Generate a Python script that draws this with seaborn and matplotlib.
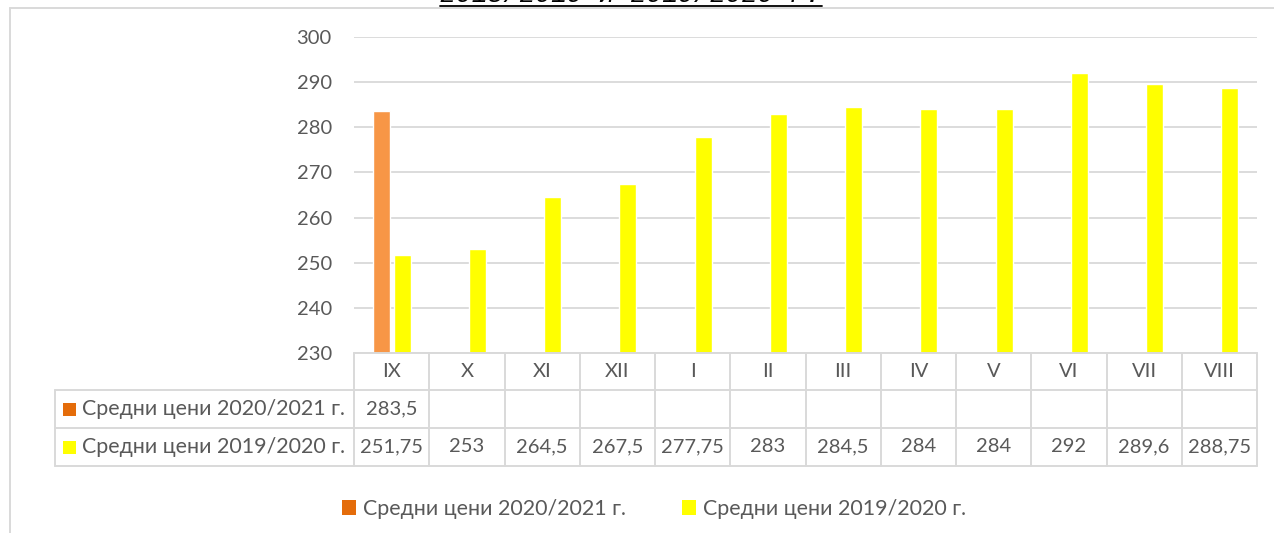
import matplotlib
matplotlib.use("Agg")
import matplotlib.pyplot as plt
from matplotlib.lines import Line2D
from matplotlib.patches import Rectangle, Patch
import seaborn as sns
import pandas as pd
import numpy as np

# ---- data ----
months = ['IX', 'X', 'XI', 'XII', 'I', 'II', 'III', 'IV', 'V', 'VI', 'VII', 'VIII']
series_names = ['Средни цени 2020/2021 г.', 'Средни цени 2019/2020 г.']
prices_2020_2021 = [283.5, None, None, None, None, None, None, None, None, None, None, None]
prices_2019_2020 = [251.75, 253, 264.5, 267.5, 277.75, 283, 284.5, 284, 284, 292, 289.6, 288.75]
title_text = '2018/2019 и 2019/2020 г.'
y_ticks = [230, 240, 250, 260, 270, 280, 290, 300]

bar_colors = {series_names[0]: '#F79646', series_names[1]: '#FFFF00'}
key_colors = {series_names[0]: '#E46C0A', series_names[1]: '#FFFF00'}

rows = []
for s, vals in zip(series_names, [prices_2020_2021, prices_2019_2020]):
    for m, v in zip(months, vals):
        if v is not None:
            rows.append({'month': m, 'value': v, 'series': s})
df = pd.DataFrame(rows)

sns.set_theme(style='white')
FONT = ['Lato', 'DejaVu Sans']
plt.rcParams['font.family'] = FONT
TXT = '#595959'
GRID = '#D9D9D9'
FS = 14.5
FS_LBL = 15.4

W, H = 1274, 533
fig = plt.figure(figsize=(W / 100, H / 100), dpi=100)
fig.patch.set_facecolor('white')

def fx(x):
    return x / W

def fy(y):
    return 1 - y / H

L, R, T, B = 354, 1257, 37, 353
ax = fig.add_axes([fx(L), fy(B), fx(R) - fx(L), fy(T) - fy(B)])
sns.barplot(data=df, x='month', y='value', hue='series', order=months,
            hue_order=series_names, palette=bar_colors, width=0.56, gap=0.2,
            saturation=1, legend=False, ax=ax, err_kws={'linewidth': 0})
ax.set_ylim(230, 300)
ax.set_xlim(-0.5, len(months) - 0.5)
ax.set_yticks(y_ticks)
ax.set_yticklabels([str(t) for t in y_ticks], color=TXT, fontsize=FS)
ax.tick_params(axis='y', length=0, pad=16)
ax.set_xticks([])
ax.set_xlabel('')
ax.set_ylabel('')
for sp in ax.spines.values():
    sp.set_visible(False)
ax.grid(axis='y', color=GRID, linewidth=1.3)
ax.set_axisbelow(True)

def hline(y, x0, x1):
    fig.add_artist(Line2D([fx(x0), fx(x1)], [fy(y), fy(y)], color=GRID, lw=1.4))

def vline(x, y0, y1):
    fig.add_artist(Line2D([fx(x), fx(x)], [fy(y0), fy(y1)], color=GRID, lw=1.4))

# chart border (extends past the image)
hline(8, 10, W + 5)
vline(10, 8, H + 5)

# title (cut off at the top edge, as in the reference)
fig.text(fx(631), fy(2.5), title_text, ha='center', va='baseline',
         fontsize=19, style='italic', family=['Liberation Mono', 'DejaVu Sans Mono'],
         color='black')
fig.add_artist(Line2D([fx(440), fx(822)], [fy(5.5), fy(5.5)], color='black', lw=1.3))

# data table
r0, r1, r2, r3 = 353, 390, 428, 466
LBL = 55
cw = (R - L) / len(months)
hline(r0, L, R)
hline(r1, LBL, R)
hline(r2, LBL, R)
hline(r3, LBL, R)
vline(LBL, r1, r3)
for i in range(len(months) + 1):
    vline(L + i * cw, r0, r3)

def fmt(v):
    return f'{v:g}'.replace('.', ',')

for i, m in enumerate(months):
    cx = L + (i + 0.5) * cw
    fig.text(fx(cx), fy((r0 + r1) / 2), m, ha='center', va='center', color=TXT, fontsize=FS)
    for (ra, rb), vals in zip([(r1, r2), (r2, r3)], [prices_2020_2021, prices_2019_2020]):
        if vals[i] is not None:
            fig.text(fx(cx), fy((ra + rb) / 2), fmt(vals[i]), ha='center', va='center',
                     color=TXT, fontsize=FS)

for (ra, rb), s in zip([(r1, r2), (r2, r3)], series_names):
    yc = (ra + rb) / 2
    fig.add_artist(Rectangle((fx(63), fy(yc + 6.5)), fx(13), 13 / H,
                             facecolor=key_colors[s], edgecolor='none'))
    fig.text(fx(82), fy(yc), s, ha='left', va='center', color=TXT, fontsize=FS_LBL)

# legend
handles = [Patch(facecolor=key_colors[s], edgecolor='none', label=s) for s in series_names]
leg = fig.legend(handles=handles, loc='center', bbox_to_anchor=(fx(654), fy(509)),
                 ncol=2, frameon=False, fontsize=FS_LBL, handlelength=0.65, handleheight=0.65,
                 handletextpad=0.35, columnspacing=2.6)
for tx in leg.get_texts():
    tx.set_color(TXT)

fig.savefig('out.png', dpi=100, facecolor='white')
